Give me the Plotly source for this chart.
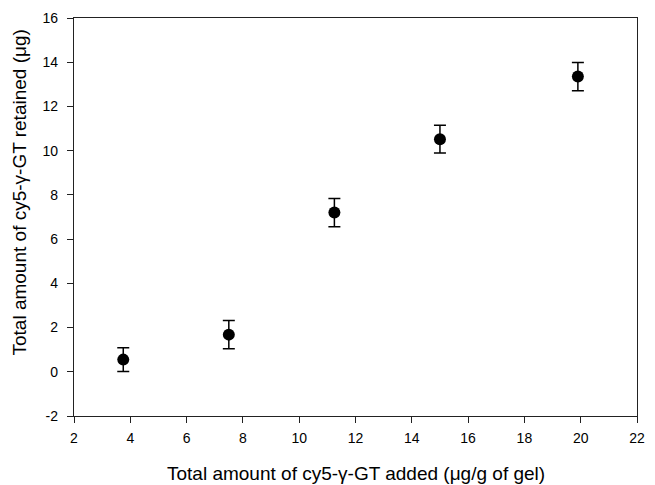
import plotly.graph_objects as go

x_added = [3.75, 7.5, 11.25, 15.0, 19.9]
y_retained = [0.55, 1.68, 7.2, 10.52, 13.35]
y_err = [0.54, 0.64, 0.64, 0.63, 0.64]

x_ticks = [2, 4, 6, 8, 10, 12, 14, 16, 18, 20, 22]
y_ticks = [-2, 0, 2, 4, 6, 8, 10, 12, 14, 16]
y_tick_text = ["-2", "0", "2", "4", "6", "8", "10", "12", "14", "16"]

x_title = "Total amount of cy5-γ-GT added (μg/g of gel)"
y_title = "Total amount of cy5-γ-GT retained (μg)"

fig = go.Figure()
fig.add_trace(go.Scatter(
    x=x_added, y=y_retained, mode="markers",
    marker=dict(color="black", size=12),
    error_y=dict(type="data", array=y_err, visible=True, color="black", thickness=1.5, width=6),
    showlegend=False,
))

font = dict(family="Liberation Sans, Arial, sans-serif", color="black")
fig.update_layout(
    width=655, height=485,
    margin=dict(l=74, r=10, t=16, b=69),
    paper_bgcolor="white", plot_bgcolor="white",
    font=font,
)
fig.update_xaxes(
    range=[2, 22], tickvals=x_ticks, ticks="outside", ticklen=6, tickwidth=1.2, tickcolor="#222",
    showline=True, linecolor="#222", linewidth=1.3, mirror=True, showgrid=False, zeroline=False,
    tickfont=dict(size=14), ticklabelstandoff=3,
)
fig.update_yaxes(
    range=[-2, 16], tickvals=y_ticks, ticktext=y_tick_text, ticks="outside", ticklen=6, tickwidth=1.2,
    tickcolor="#222",
    showline=True, linecolor="#222", linewidth=1.3, mirror=True, showgrid=False, zeroline=False,
    tickfont=dict(size=14), ticklabelstandoff=6,
)
fig.add_annotation(
    text=x_title, xref="paper", yref="paper", x=0.5, y=-0.145,
    xanchor="center", yanchor="middle", showarrow=False, font=dict(size=19),
)
fig.add_annotation(
    text=y_title, xref="paper", yref="paper", x=-0.0963, y=0.561, textangle=-90,
    xanchor="center", yanchor="middle", showarrow=False, font=dict(size=19),
)
fig.write_html("out.html")
